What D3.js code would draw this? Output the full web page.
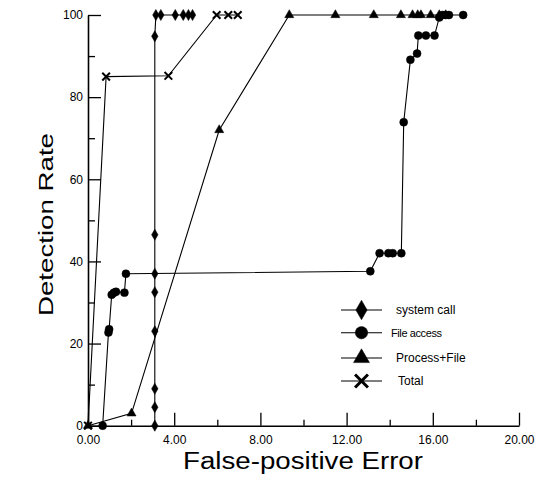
<!DOCTYPE html>
<html>
<head>
<meta charset="utf-8">
<script src="https://cdn.jsdelivr.net/npm/d3@7"></script>
<style>
  body { margin: 0; background: #fff; }
  text { font-family: Arial, "Liberation Sans", sans-serif; fill: #000; }
</style>
</head>
<body>
<div id="canvas"></div>
<script>
"use strict"

// series values: [false-positive error, detection rate]
let systemCall = [[3.1, 0], [3.1, 4.5], [3.1, 9], [3.1, 23], [3.1, 32.5], [3.1, 37], [3.1, 46.5],
    [3.1, 94.8], [3.15, 100], [3.38, 100], [4.05, 100], [4.42, 100], [4.66, 100], [4.85, 100]];
let fileAccess = [[0.68, 0], [0.95, 22.7], [0.98, 23.5], [1.1, 31.9], [1.2, 32.4], [1.3, 32.6],
    [1.69, 32.4], [1.76, 37], [13.1, 37.6], [13.53, 42], [13.94, 42], [14.14, 42], [14.54, 42],
    [14.65, 73.9], [14.96, 89.1], [15.27, 90.6], [15.33, 95], [15.68, 95], [16.08, 95],
    [16.3, 99.4], [16.45, 100], [16.6, 100], [16.75, 100], [17.41, 100]];
let processFile = [[0, 0], [2.02, 3], [6.09, 72], [9.34, 100], [11.48, 100], [13.26, 100],
    [14.52, 100], [15.06, 100], [15.3, 100], [15.45, 100], [15.9, 100], [16.3, 100], [16.6, 100]];
let total = [[0, 0], [0.84, 85], [3.73, 85.2], [5.97, 100], [6.51, 100], [6.95, 100]];

let seriesNames = ["system call", "File access", "Process+File", "Total"];
let xMajorTicks = [0, 4, 8, 12, 16, 20];
let xMinorTicks = [2, 6, 10, 14, 18];
let yMajorTicks = [0, 20, 40, 60, 80, 100];
let yMinorTicks = [10, 30, 50, 70, 90];

let drawing = d3.select("#canvas")
    .append("svg")
    .attr("width", 539)
    .attr("height", 477);

let x = d3.scaleLinear().domain([0, 20]).range([88, 519]);
let y = d3.scaleLinear().domain([0, 100]).range([425.7, 15]);

/* axes, ticks point inward */
let xAxis = drawing.append("g")
    .attr("transform", "translate(0,425.7)")
    .call(d3.axisBottom(x).tickValues(xMajorTicks).tickFormat(d3.format(".2f"))
        .tickSize(-13).tickSizeOuter(0).tickPadding(9.5));
let xMinor = drawing.append("g")
    .attr("transform", "translate(0,425.7)")
    .call(d3.axisBottom(x).tickValues(xMinorTicks).tickFormat("").tickSize(-6).tickSizeOuter(0));
let yAxis = drawing.append("g")
    .attr("transform", "translate(88,0)")
    .call(d3.axisLeft(y).tickValues(yMajorTicks).tickFormat(d3.format("d"))
        .tickSize(-13).tickSizeOuter(0).tickPadding(5));
let yMinor = drawing.append("g")
    .attr("transform", "translate(88,0)")
    .call(d3.axisLeft(y).tickValues(yMinorTicks).tickFormat("").tickSize(-7).tickSizeOuter(0));

drawing.selectAll(".domain").attr("stroke", "#000").attr("stroke-width", 1.6);
drawing.selectAll(".tick line").attr("stroke", "#000").attr("stroke-width", 1.3);
drawing.selectAll(".tick text")
    .attr("font-size", 12)
    .attr("font-family", "Arial, 'Liberation Sans', sans-serif")
    .attr("fill", "#000");
xMinor.select(".domain").remove();
yMinor.select(".domain").remove();

/* axis titles */
drawing.append("text")
    .attr("x", 183)
    .attr("y", 469.3)
    .attr("font-size", 23.5)
    .attr("textLength", 240)
    .attr("lengthAdjust", "spacingAndGlyphs")
    .text("False-positive Error");

drawing.append("text")
    .attr("transform", "translate(53,316) rotate(-90)")
    .attr("font-size", 21)
    .attr("textLength", 183)
    .attr("lengthAdjust", "spacingAndGlyphs")
    .text("Detection Rate");

/* lines and markers */
let line = d3.line().x(d => x(d[0])).y(d => y(d[1]));
let allSeries = [systemCall, fileAccess, processFile, total];
let symbolTypes = [d3.symbolDiamond, d3.symbolCircle, d3.symbolTriangle, d3.symbolTimes];
let symbolSizes = [36, 50, 36, 40];
let legendSizes = [110, 120, 110, 110];

allSeries.forEach(function (data, i) {
    drawing.append("path")
        .attr("d", line(data))
        .attr("fill", "none")
        .attr("stroke", "#000")
        .attr("stroke-width", 1.1);

    drawing.selectAll(null)
        .data(data)
        .enter()
        .append("path")
        .attr("transform", d => "translate(" + x(d[0]) + "," + y(d[1]) + ")")
        .attr("d", d3.symbol().type(symbolTypes[i]).size(symbolSizes[i]))
        .attr("fill", i == 3 ? "none" : "#000")
        .attr("stroke", "#000")
        .attr("stroke-width", i == 3 ? 2 : 0.5);
});

/* legend */
let legendY = [310, 332.7, 358, 381];
let legendTextX = [396, 391, 396, 398];
seriesNames.forEach(function (name, i) {
    drawing.append("line")
        .attr("x1", 341)
        .attr("x2", 382)
        .attr("y1", legendY[i])
        .attr("y2", legendY[i])
        .attr("stroke", "#000")
        .attr("stroke-width", 1.1);

    drawing.append("path")
        .attr("transform", "translate(361.5," + legendY[i] + ")")
        .attr("d", d3.symbol().type(symbolTypes[i]).size(legendSizes[i]))
        .attr("fill", i == 3 ? "none" : "#000")
        .attr("stroke", "#000")
        .attr("stroke-width", i == 3 ? 3 : 0.5);

    drawing.append("text")
        .attr("x", legendTextX[i])
        .attr("y", legendY[i] + 4)
        .attr("font-size", i == 1 ? 11 : 12)
        .attr("letter-spacing", i == 1 ? -0.4 : 0)
        .text(name);
});
</script>
</body>
</html>
